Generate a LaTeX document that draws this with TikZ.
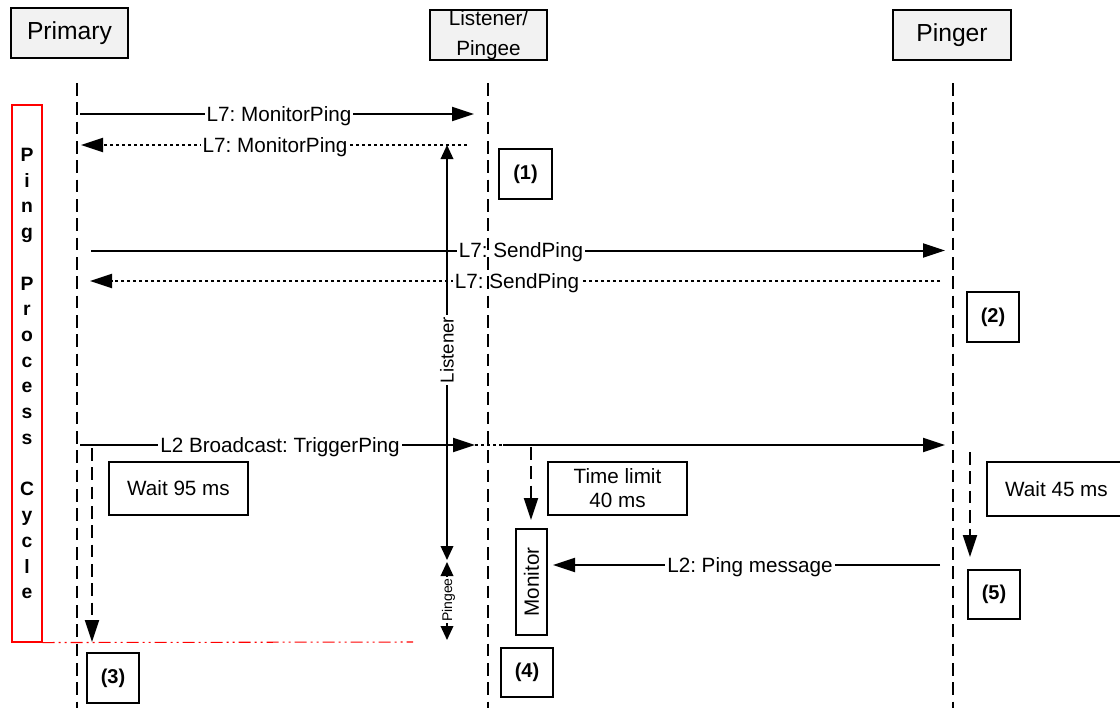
\documentclass[tikz,border=0pt]{standalone}
\usepackage{fontspec}
\setmainfont{Liberation Sans}
\usetikzlibrary{arrows.meta}
\definecolor{headgray}{HTML}{F2F2F2}
\definecolor{cyclered}{HTML}{FF0000}
\frenchspacing
\begin{document}
\begin{tikzpicture}[x=0.75pt,y=-0.75pt,
  head/.style={draw, line width=1.4pt, fill=headgray, inner sep=0pt, font=\fontsize{18.5}{22}\selectfont},
  lifeline/.style={line width=1.5pt, dash pattern=on 9.5pt off 5pt},
  bigtip/.style={-{Triangle[length=16.5pt,width=10.5pt]}},
  msg/.style={line width=1.5pt, bigtip},
  retmsg/.style={line width=1.4pt, dash pattern=on 2.25pt off 2.25pt, bigtip},
  dotseg/.style={line width=1.4pt, dash pattern=on 2.25pt off 2.25pt},
  lbl/.style={fill=white, inner xsep=1.5pt, inner ysep=1.5pt, text height=11.2pt, text depth=0pt, font=\fontsize{15.5}{18}\selectfont},
  numbox/.style={draw, line width=1.1pt, inner sep=0pt, font=\bfseries\fontsize{15}{18}\selectfont},
  notebox/.style={draw, line width=1.1pt, inner sep=0pt, align=center, font=\fontsize{15.5}{18}\selectfont},
  waitline/.style={line width=1.5pt, dash pattern=on 9.5pt off 5pt, bigtip},
  spanarrow/.style={line width=1.1pt, {Triangle[length=10.5pt,width=9.5pt]}-{Triangle[length=10.5pt,width=9.5pt]}},
  spanlbl/.style={fill=white, inner xsep=1pt, inner ysep=1pt, rotate=90},
  cyclebox/.style={draw=cyclered, line width=0.8pt, inner sep=0pt, align=center, font=\bfseries\fontsize{14.5}{19.3}\selectfont},
  cycleline/.style={draw=cyclered, line width=0.8pt, dash pattern=on 9pt off 3pt on 1.5pt off 3pt on 1.5pt off 3pt}
]
\useasboundingbox (0,0) rectangle (1120,708);
\clip (0,0) rectangle (1120,708);

% headers
\node[head, minimum width=87.75pt, minimum height=37.5pt] (primary) at (69.5,33) {Primary};
\node[head, minimum width=87.75pt, minimum height=37.5pt, align=center, font=\fontsize{15.5}{22.5}\selectfont] (listener) at (488.5,35) {Listener/\\Pingee};
\node[head, minimum width=88.5pt, minimum height=37.5pt] (pinger) at (952,35) {Pinger};

% lifeline ends
\coordinate (pA) at (76.5,83); \coordinate (pB) at (76.5,708);
\coordinate (lA) at (488,83);  \coordinate (lB) at (488,708);
\coordinate (gA) at (953,83);  \coordinate (gB) at (953,708);

% ping process cycle
\node[cyclebox, minimum width=22.5pt, minimum height=402.75pt] (cycle) at (27,373.5)
  {P\\i\\n\\g\\[19.3pt]P\\r\\o\\c\\e\\s\\s\\[19.3pt]C\\y\\c\\l\\e};
\coordinate (cycEnd) at (413,642);
\draw[cycleline] (cycle.south east) -- (cycEnd);

% messages
\coordinate (m1s) at (80,114);  \coordinate (m1e) at (474,114);
\draw[msg] (m1s) -- (m1e);
\node[lbl] (m1l) at (279,114) {L7: MonitorPing};

\coordinate (m2s) at (467,145); \coordinate (m2e) at (81,145);
\draw[retmsg] (m2s) -- (m2e);
\node[lbl] (m2l) at (275,145) {L7: MonitorPing};

\coordinate (m3s) at (91,250.5); \coordinate (m3e) at (945,250.5);
\draw[msg] (m3s) -- (m3e);
\node[lbl] (m3l) at (521,250.5) {L7: SendPing};

\coordinate (m4s) at (940,281); \coordinate (m4e) at (90,281);
\draw[retmsg] (m4s) -- (m4e);
\node[lbl] (m4l) at (517,281) {L7: SendPing};

\coordinate (m5s) at (80,445); \coordinate (m5a) at (475,445);
\coordinate (m5b) at (503,445); \coordinate (m5e) at (945,445);
\draw[msg] (m5s) -- (m5a);
\draw[dotseg] (m5a) -- (m5b);
\draw[msg] (m5b) -- (m5e);
\node[lbl] (m5l) at (280,445) {L2 Broadcast: TriggerPing};

\coordinate (m6s) at (940,565); \coordinate (m6e) at (553,565);
\draw[msg] (m6s) -- (m6e);
\node[lbl] (m6l) at (750,565) {L2: Ping message};

% listener / pingee spans
\coordinate (lsTop) at (447,145); \coordinate (lsBot) at (447,560);
\draw[spanarrow] (lsTop) -- (lsBot);
\node[spanlbl, font=\fontsize{14}{16}\selectfont, text height=10pt, text depth=0pt] (lsl) at (447,350) {Listener};
\coordinate (psTop) at (447,562); \coordinate (psBot) at (447,640);
\draw[spanarrow] (psTop) -- (psBot);
\node[spanlbl, font=\fontsize{10.5}{12}\selectfont, text height=7.5pt, text depth=0pt] (psl) at (447,600) {Pingee};

% notes
\node[notebox, minimum width=104.25pt, minimum height=39.75pt] (w95) at (178.5,488.5) {Wait 95 ms};
\node[notebox, minimum width=104.25pt, minimum height=39.75pt] (tl) at (617.5,488.5) {Time limit\\40 ms};
\node[notebox, minimum width=104.25pt, minimum height=40.5pt] (w45) at (1056.5,489) {Wait 45 ms};
\node[notebox, rotate=90, minimum width=79.5pt, minimum height=23.25pt] (mon) at (531.5,582) {Monitor};

% numbered boxes
\node[numbox, minimum width=39.75pt, minimum height=37.5pt] (n1) at (525.5,174) {(1)};
\node[numbox, minimum width=39pt, minimum height=37.5pt] (n2) at (993,317) {(2)};
\node[numbox, minimum width=39pt, minimum height=37.5pt] (n3) at (113,678) {(3)};
\node[numbox, minimum width=39pt, minimum height=36.75pt] (n4) at (527,672.5) {(4)};
\node[numbox, minimum width=39pt, minimum height=36.75pt] (n5) at (994,594.5) {(5)};

% wait arrows
\coordinate (wpA) at (92,448);  \coordinate (wpB) at (92,642);
\coordinate (wlA) at (531,447); \coordinate (wlB) at (531,520);
\coordinate (wgA) at (970,452); \coordinate (wgB) at (970,557);
\draw[waitline] (wpA) -- (wpB);
\draw[waitline] (wlA) -- (wlB);
\draw[waitline] (wgA) -- (wgB);

% lifelines
\draw[lifeline] (pA) -- (pB);
\draw[lifeline] (lA) -- (lB);
\draw[lifeline] (gA) -- (gB);
\end{tikzpicture}
\end{document}
